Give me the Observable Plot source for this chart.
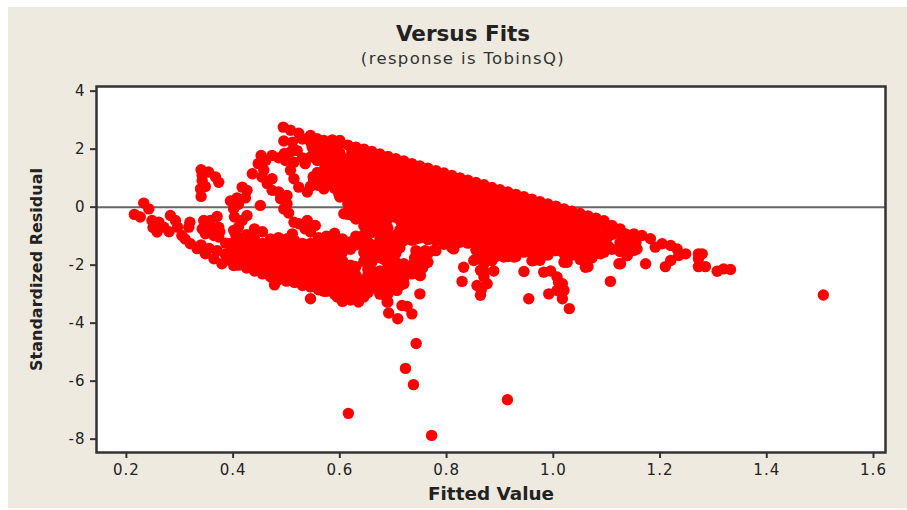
<!DOCTYPE html>
<html><head><meta charset="utf-8">
<style>
html,body{margin:0;padding:0;background:#fff;}
#panel{position:absolute;left:8px;top:7px;width:899px;height:501px;background:#eeeae0;overflow:hidden;}
#title{margin-left:11px;width:888px;height:63px;text-align:center;color:#222;font-family:"DejaVu Sans",sans-serif;}
#title .t{padding-top:14px;font-size:21.5px;font-weight:bold;line-height:26px;}
#title .s{font-size:16.5px;letter-spacing:1.35px;line-height:24px;color:#333;}
svg{display:block;background:transparent;font-family:"DejaVu Sans",sans-serif;}
g[aria-label="x-axis label"] text{font-weight:bold;font-size:18.4px;fill:#222;}
g[aria-label="y-axis label"] text{font-weight:bold;font-size:16px;fill:#222;}
g[aria-label="x-axis tick label"] text,g[aria-label="y-axis tick label"] text{letter-spacing:1px;font-weight:500;}
</style>
<script src="https://cdn.jsdelivr.net/npm/d3@7"></script>
<script src="https://cdn.jsdelivr.net/npm/@observablehq/plot@0.6"></script>
</head><body>
<div id="panel"><div id="title"><div class="t">Versus Fits</div><div class="s">(response is TobinsQ)</div></div></div>
<script>
const xTicks=[0.2,0.4,0.6,0.8,1.0,1.2,1.4,1.6];
const yTicks=[-8,-6,-4,-2,0,2,4];
const xLabel="Fitted Value", yLabel="Standardized Residual";
const leftTail=[[.215,-.25],[.2325,.14],[.242,-.06],[.226,-.34],[.248,-.46],[.2575,-.86],[.27,-.69],[.261,-.52],[.25,-.7],[.2825,-.29],[.292,-.46],[.296,-.69],[.28,-.85],[.304,-.98],[.31,-1.1],[.319,-.52],[.317,-.69],[.32,-1.26],[.3325,-1.43],[.348,-1.61],[.364,-1.78],[.379,-1.95],[.401,-2.01],[.34,-1.3],[.355,-1.42],[.37,-1.5],[.385,-1.62],[.395,-1.75]];
const wedge=[[.345,-.46],[.37,-.32],[.373,-.69],[.351,-.69],[.364,-.98],[.342,-.75],[.373,-1.03],[.386,-1.24],[.3575,-.46],[.348,-.92],[.36,-.72],[.375,-.85]];
const upperWedge=[[.34,1.29],[.354,1.21],[.367,1.04],[.373,.86],[.342,.92],[.348,.71],[.339,.63],[.34,.37],[.342,1.1]];
const chain=[[.417,.69],[.426,.58],[.4075,.32],[.395,.21],[.423,.32],[.401,-.06],[.4025,-.34],[.41,-.69],[.401,-.8],[.426,-.29],[.451,.06],[.417,-.46],[.41,.1],[.405,-.95],[.425,-.95]];
const upperMid=[[.436,1.15],[.4525,1.78],[.473,1.78],[.461,1.61],[.4575,1.27],[.454,1.04],[.473,.98],[.464,.81],[.473,.58],[.4855,.52],[.501,.4],[.489,.29],[.501,.12],[.495,-.06],[.504,-.2],[.485,1.7],[.447,1.5]];
const topCluster=[[.494,2.76],[.5075,2.65],[.523,2.55],[.545,2.47],[.5575,2.36],[.495,2.28],[.511,2.24],[.5075,1.9],[.498,1.61],[.514,1.55],[.5075,1.27],[.514,.98],[.523,.69],[.539,.52],[.545,.72],[.57,.63],[.548,2.07],[.545,1.73],[.5575,1.9],[.586,2.32],[.57,1.78],[.5575,1.61],[.551,.92],[.57,1.04],[.5825,1.5],[.5825,.92],[.598,.46],[.572,2.1],[.586,2.0],[.586,1.75],[.572,1.45],[.59,1.2],[.598,.75],[.558,1.2],[.57,2.3],[.57,1.25],[.55,1.05],[.53,2.35],[.496,1.85],[.53,1.7],[.52,1.95],[.535,1.5],[.575,1.6],[.58,1.2],[.59,1],[.575,.85],[.56,.75],[.59,.65],[.59,2.15],[.6,2.3],[.545,2.25],[.558,2.12],[.585,1.42]];
const ring=[[.523,-.57],[.539,-.46],[.554,-.63],[.545,-.86],[.535,-.75],[.514,-.52],[.511,-.92],[.6075,-.23],[.625,-.3]];
const lowerMass=[
[.395,-1.25,-1.55,-1.85],[.41,-1.1,-1.4,-1.7,-2.0],[.425,-1.25,-1.55,-1.85,-2.1],
[.44,-.75,-1.1,-1.4,-1.7,-2.0,-2.2],[.455,-.85,-1.25,-1.55,-1.85,-2.15,-2.3],
[.47,-1.1,-1.4,-1.7,-2,-2.3,-2.4],[.485,-1.05,-1.25,-1.55,-1.85,-2.15,-2.45,-2.5],
[.5,-1.1,-1.4,-1.7,-2,-2.3,-2.55],[.515,-1.15,-1.25,-1.55,-1.85,-2.15,-2.45,-2.6],
[.53,-1.25,-1.4,-1.7,-2,-2.3,-2.6,-2.7],[.545,-1.25,-1.55,-1.85,-2.15,-2.45,-2.75],
[.56,-1.05,-1.4,-1.7,-2,-2.3,-2.6,-2.85],[.575,-1,-1.25,-1.55,-1.85,-2.15,-2.45,-2.75,-2.9],
[.59,-.9,-1.1,-1.4,-1.7,-2,-2.3,-2.6,-2.9,-3],[.605,-1.1,-1.25,-1.55,-1.85,-2.15,-2.45,-2.75,-3.05,-3.25],
[.62,-1.2,-1.45,-2,-2.3,-2.6,-2.9,-3.2]];
const lowerMassFill=[[.4475,-1.3,-1.6,-1.9,-2.1],[.4775,-1.2,-1.5,-1.8,-2.1,-2.35],[.5075,-1.25,-1.55,-1.85,-2.15,-2.45],
[.5375,-1.4,-1.7,-2,-2.3,-2.6],[.5675,-1.2,-1.5,-1.8,-2.1,-2.4,-2.7],[.5975,-1.2,-1.5,-1.8,-2.1,-2.4,-2.7,-3]];
const mainBody=[
[.6,2.18,1.87,1.56,1.25,.94,.63,.35],
[.615,2.14,1.68,1.37,1.06,.75,.44,.13,-.15,-.25],
[.63,2.07,1.76,1.45,1.14,.83,.52,.21,-.1,-.41,-1,-1.3,-2.05,-2.35,-2.65,-2.95],
[.645,2,1.84,1.53,1.22,.91,.6,.29,-.02,-.33,-.64,-.95,-1.25,-1.56,-1.87,-2.5,-2.8,-3.1],
[.66,1.92,1.61,1.3,.99,.68,.37,.06,-.25,-.56,-.87,-1.3,-1.6,-1.9,-2.2,-2.5,-2.8],
[.675,1.83,1.67,1.36,1.05,.74,.43,.12,-.19,-.5,-.81,-1.12,-1.43,-1.74,-2.45,-2.76,-3],
[.69,1.75,1.44,1.13,.82,.51,.2,-.11,-.42,-.73,-1.04,-1.35,-1.66,-1.97,-2.28,-2.55,-3,-3.27],
[.705,1.67,1.51,1.2,.89,.58,.27,-.04,-.35,-.97,-1.28,-1.59,-1.9,-2.2,-2.5,-2.85],
[.72,1.59,1.28,.97,.66,.35,.04,-.27,-.58,-.89,-1.15,-1.95,-2.25,-2.64],
[.735,1.5,1.34,1.03,.72,.41,.1,-.21,-.52,-.83,-1.14,-2,-2.3],
[.75,1.42,1.11,.8,.49,.18,-.13,-.44,-.75,-1.06,-1.7,-2,-2.36],
[.765,1.34,1.18,.87,.56,.25,-.06,-.37,-.68,-.99,-1.12,-1.6,-1.9],
[.78,1.26,.95,.64,.33,.02,-.29,-.6,-.91,-1.15,-1.5],
[.795,1.18,1.02,.71,.4,.09,-.22,-.53,-.84,-1.15,-1.28],
[.81,1.09,.78,.47,.16,-.15,-.46,-.77,-1.08,-1.4],
[.825,1.01,.85,.54,.23,-.08,-.39,-.7,-1.01,-1.2],
[.84,.93,.62,.31,0,-.31,-.62,-.93,-1.24],
[.855,.85,.69,.38,.07,-.24,-.55,-.86,-1.17,-1.48,-1.79],
[.87,.77,.46,.15,-.16,-.47,-.78,-1.09,-1.4,-1.71,-1.95,-2.2],
[.885,.68,.52,.21,-.1,-.41,-.72,-1.03,-1.34,-1.65,-1.85],
[.9,.6,.29,-.02,-.33,-.64,-.95,-1.26,-1.55],
[.915,.52,.36,.05,-.26,-.57,-.88,-1.19,-1.5,-1.7],
[.93,.44,.13,-.18,-.49,-.8,-1.11,-1.42,-1.7],
[.945,.36,.2,-.11,-.42,-.73,-1.04,-1.35,-1.55],
[.96,.27,-.04,-.35,-.66,-.97,-1.28,-1.59,-1.85],
[.975,.19,.03,-.28,-.59,-.9,-1.21,-1.52,-1.83],
[.99,.11,-.2,-.51,-.82,-1.13,-1.44,-1.65],
[1.005,.03,-.13,-.44,-.75,-1.06,-1.37,-1.5],
[1.02,-.06,-.37,-.68,-.99,-1.3,-1.61,-1.9],
[1.035,-.14,-.3,-.61,-.92,-1.23,-1.54,-1.65],
[1.05,-.22,-.53,-.84,-1.15,-1.46,-1.8],
[1.065,-.3,-.46,-.77,-1.08,-1.39,-1.7,-2.05],
[1.08,-.38,-.69,-1,-1.31,-1.6],
[1.095,-.47,-.63,-.94,-1.25,-1.55],
[1.11,-.63,-.94,-1.45],
[1.125,-.75,-.91,-1.22,-1.53]];
const mainBodyFill=[
[.6225,1.9,1.6,1.3,1,.68,.36,.05,-.25],
[.6525,1.8,1.45,1.15,.84,.52,.2,-.1,-.4,-.72,-1.2,-1.45,-1.75,-2.15,-2.35,-2.65,-2.95],
[.6825,1.6,1.28,.97,.66,.35,.04,-.27,-.58,-.89,-1.2,-1.5,-1.8,-2.35,-2.65,-2.9],
[.7125,1.42,1.1,.8,.5,.2,-.12,-.45,-.78,-1.1,-1.4,-2.05,-2.35,-2.7],
[.7425,1.28,.96,.65,.33,.02,-.3,-.6,-.9,-1.1,-1.5,-1.8,-2.15],
[.7725,1.1,.8,.48,.17,-.15,-.45,-.77,-1.05],
[.8025,.95,.62,.32,0,-.3,-.6,-.92,-1.2],
[.8325,.78,.47,.15,-.15,-.47,-.78,-1.08],
[.8625,.6,.3,-.02,-.32,-.63,-.95,-1.25,-1.55],
[.8925,.45,.13,-.18,-.5,-.8,-1.1,-1.42,-1.7],
[.9225,.28,-.03,-.35,-.65,-.97,-1.27,-1.55],
[.9525,.12,-.2,-.5,-.82,-1.12,-1.43],
[.9825,-.05,-.36,-.67,-.98,-1.28,-1.55],
[1.0125,-.2,-.52,-.83,-1.14,-1.45],
[1.0425,-.38,-.68,-1,-1.3,-1.6],
[1.0725,-.55,-.86,-1.17,-1.48,-1.75],
[1.1025,-.72,-1.02,-1.33]];
const lowerFill=[[.74,-1.75],[.76,-1.5],[.74,-2.05],[.755,-2.1],[.725,-2.05],[.71,-2.05],[.72,-2.45],[.69,-2.45],[.66,-2.65],[.7,-2.65],[.685,-2.8],[.675,-2.2],[.64,-2.64],[.6135,-2.76]];
const lowerLumps=[[.635,-3.27],[.679,-2.99],[.6885,-3.27],[.6915,-3.65],[.7085,-3.85],[.735,-3.68],[.7165,-3.39],[.726,-3.42],[.707,-2.87],[.717,-2.64],[.75,-2.99],[.751,-2.36],[.76,-1.95],[.776,-1.49],[.8135,-1.44],[.826,-1.2],[.832,-2.07],[.829,-2.56],[.851,-1.84],[.8635,-2.18],[.8885,-2.2],[.876,-2.64],[.8635,-3.04],[.857,-2.7],[.876,-1.84],[.907,-1.72],[.926,-1.72],[.945,-2.22],[.954,-3.16],[.9635,-1.84],[.982,-2.24],[1.007,-2.41],[1.017,-2.64],[.9915,-2.99],[1.017,-3.16],[1.007,-2.87],[1.03,-3.5],[1.02,-2.87],[1.026,-1.9],[1.06,-2.07],[1.0885,-1.61],[1.107,-2.56],[1.123,-1.95],[.4775,-2.68],[.545,-3.16],[.57,-2.9],[.595,-3.1],[.87,-2.4],[.865,-2.85],[1.01,-2.6],[.995,-2.2]];
const rightTail=[[1.135,-.92],[1.151,-.92],[1.166,-.98],[1.182,-1.09],[1.191,-1.38],[1.204,-1.26],[1.22,-1.32],[1.232,-1.44],[1.248,-1.61],[1.272,-1.61],[1.279,-1.61],[1.235,-1.67],[1.22,-1.84],[1.21,-2.05],[1.272,-2.05],[1.285,-2.05],[1.307,-2.21],[1.319,-2.13],[1.332,-2.15],[1.272,-1.78],[1.173,-1.95],[1.126,-1.95],[1.151,-1.49],[1.138,-1.67],[1.14,-1.2],[1.155,-1.2],[1.135,-1.45],[1.157,-1.44],[1.1385,-1.67]];
const outliers=[[1.506,-3.03],[.616,-7.11],[.723,-5.56],[.738,-6.12],[.743,-4.7],[.914,-6.64],[.772,-7.87]];

const columns=rows=>rows.flatMap(([x,...ys])=>ys.map(y=>[x,y]));
const points=[...leftTail,...wedge,...upperWedge,...chain,...upperMid,...topCluster,...ring,
  ...columns(lowerMass),...columns(lowerMassFill),...columns(mainBody),...columns(mainBodyFill),
  ...lowerFill,...lowerLumps,...rightTail,...outliers];

const chart=Plot.plot({
  width:899,height:438,
  marginLeft:88,marginRight:22,marginTop:16,marginBottom:56,
  x:{domain:[0.144,1.6225]},
  y:{domain:[-8.46,4.16]},
  marks:[
    Plot.frame({fill:"#fff",stroke:"none"}),
    Plot.ruleY([0],{stroke:"#666",strokeWidth:2}),
    Plot.dot(points,{x:d=>d[0],y:d=>d[1],r:5.7,fill:"#ff0000",stroke:"none"}),
    Plot.frame({stroke:"#333",strokeWidth:2.5}),
    Plot.axisX({ticks:xTicks,tickFormat:d=>d.toFixed(1),tickSize:6,tickPadding:6,fontSize:15,stroke:"#333",strokeWidth:2,color:"#222",
      label:xLabel,labelAnchor:"center",labelArrow:"none",labelOffset:47}),
    Plot.axisY({ticks:yTicks,tickFormat:d=>String(d),tickSize:6,tickPadding:5,fontSize:15,stroke:"#333",strokeWidth:2,color:"#222",
      label:yLabel,labelAnchor:"center",labelArrow:"none",labelOffset:66})
  ]
});
document.getElementById("panel").appendChild(chart);
</script>
</body></html>
